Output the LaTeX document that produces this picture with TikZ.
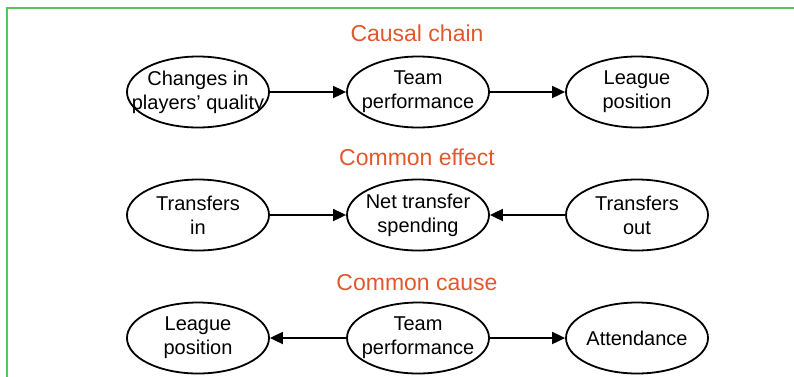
\documentclass[tikz,border=0pt]{standalone}
\usepackage{fontspec}
\setmainfont{Liberation Sans}
\usetikzlibrary{shapes.geometric,arrows.meta}
\definecolor{titleorange}{RGB}{226,88,45}
\definecolor{framegreen}{RGB}{92,196,92}
\tikzset{
  var/.style={ellipse,draw=black,line width=1.8pt,minimum width=142pt,minimum height=71pt,inner xsep=-24pt,inner ysep=-4pt,align=center,font=\fontsize{20}{24}\selectfont},
  ttl/.style={text=titleorange,font=\fontsize{23}{27}\selectfont,inner sep=0pt},
  link/.style={line width=1.8pt,-{Triangle[length=13pt,width=12pt]}}
}
\begin{document}
\begin{tikzpicture}[x=1pt,y=-1pt]
\useasboundingbox (0,0) rectangle (794,376);
\draw[framegreen,line width=1.5pt] (7,380) -- (7,8) -- (800,8);
% Causal chain
\node[ttl] (t1) at (417,33) {Causal chain};
\node[var] (a1) at (198,92) {Changes in\\players' quality};
\node[var] (a2) at (418,92) {Team\\performance};
\node[var] (a3) at (637,92) {League\\position};
\draw[link] (a1) -- (a2);
\draw[link] (a2) -- (a3);
% Common effect
\node[ttl] (t2) at (417,157) {Common effect};
\node[var] (b1) at (198,215) {Transfers\\in};
\node[var] (b2) at (418,215) {Net transfer\\spending};
\node[var] (b3) at (637,215) {Transfers\\out};
\draw[link] (b1) -- (b2);
\draw[link] (b3) -- (b2);
% Common cause
\node[ttl] (t3) at (417,283) {Common cause};
\node[var] (c1) at (198,338) {League\\position};
\node[var] (c2) at (418,338) {Team\\performance};
\node[var] (c3) at (637,338) {Attendance};
\draw[link] (c2) -- (c1);
\draw[link] (c2) -- (c3);
\end{tikzpicture}
\end{document}
